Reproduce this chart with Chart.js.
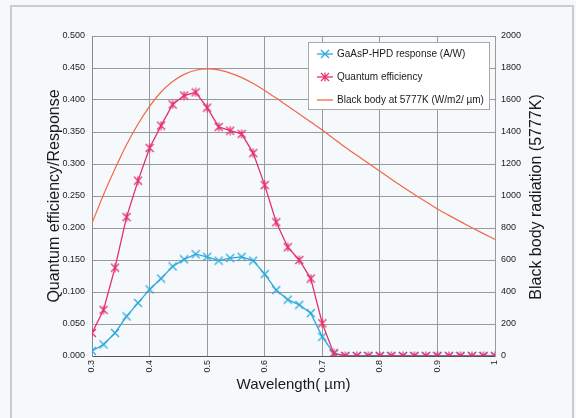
<!DOCTYPE html>
<html>
<head>
<meta charset="utf-8">
<script src="https://cdn.jsdelivr.net/npm/chart.js@4.4.1/dist/chart.umd.min.js"></script>
<style>
  html, body { margin: 0; padding: 0; background: #f5f9fb; }
  #frame { position: absolute; left: 10px; top: 5px; width: 564px; height: 430px;
           border: 2px solid #cbcccd; box-sizing: border-box; }
  #wrap { position: absolute; left: 0; top: 0; width: 576px; height: 418px; }
</style>
</head>
<body>
<div id="frame"></div>
<div id="wrap"><canvas id="chart" width="576" height="418"></canvas></div>
<script>
// wavelength in um, every 0.02
const wavelengths = [0.30,0.32,0.34,0.36,0.38,0.40,0.42,0.44,0.46,0.48,0.50,0.52,0.54,0.56,0.58,0.60,0.62,0.64,0.66,0.68,
  0.70,0.72,0.74,0.76,0.78,0.80,0.82,0.84,0.86,0.88,0.90,0.92,0.94,0.96,0.98,1.00];
const responseAW = [0.008,0.018,0.036,0.062,0.083,0.104,0.121,0.140,0.151,0.159,0.155,0.149,0.153,0.155,0.149,0.128,0.103,0.088,0.080,0.067,
  0.030,0.004,0,0,0,0,0,0,0,0,0,0,0,0,0,0];
const quantumEff = [0.036,0.072,0.138,0.217,0.274,0.325,0.360,0.393,0.407,0.412,0.388,0.358,0.352,0.347,0.317,0.267,0.209,0.170,0.150,0.121,
  0.051,0.004,0,0,0,0,0,0,0,0,0,0,0,0,0,0];
const blackBody = [830,1008,1170,1320,1450,1560,1650,1715,1760,1786,1794,1788,1768,1740,1703,1660,1612,1562,1512,1462,
  1412,1358,1305,1254,1204,1155,1105,1057,1010,964,919,879,840,802,765,729];

const leftTicks = { min: 0, max: 0.5, step: 0.05 };
const rightTicks = { min: 0, max: 2000, step: 200 };

const CYAN = "#2aa8de";
const MAGENTA = "#e3306f";
const ORANGE = "#f26848";
const NARROW = "'Liberation Sans Narrow', 'Liberation Sans', Arial, sans-serif";
const SANS = "'Liberation Sans', Arial, sans-serif";

function makeMarker(color, size, asterisk) {
  const c = document.createElement("canvas");
  c.width = c.height = size;
  const g = c.getContext("2d");
  g.strokeStyle = color;
  g.lineWidth = 1.2;
  g.beginPath();
  g.moveTo(1,1); g.lineTo(size-1,size-1);
  g.moveTo(size-1,1); g.lineTo(1,size-1);
  if (asterisk) { g.moveTo(size/2,0.5); g.lineTo(size/2,size-0.5); }
  g.stroke();
  return c;
}
const cyanMark = makeMarker(CYAN, 10, false);
const magMark = makeMarker(MAGENTA, 10, true);

const pts = arr => wavelengths.map((w,i) => ({ x: w, y: arr[i] }));

// legend box + right axis title
const extras = {
  id: "extras",
  afterDatasetsDraw(chart) {
    const c = chart.ctx;
    c.save();
    c.fillStyle = "#ffffff";
    c.strokeStyle = "#a8a8a8";
    c.lineWidth = 1;
    c.fillRect(308, 42, 182, 68);
    c.strokeRect(308.5, 42.5, 181, 67);
    const items = [
      { label: "GaAsP-HPD response (A/W)", color: CYAN, mark: cyanMark, y: 54 },
      { label: "Quantum efficiency", color: MAGENTA, mark: magMark, y: 77 },
      { label: "Black body at 5777K (W/m2/ \u00b5m)", color: ORANGE, mark: null, y: 100 }
    ];
    c.font = "10px " + SANS;
    c.textBaseline = "middle";
    items.forEach(it => {
      c.strokeStyle = it.color;
      c.lineWidth = 1.3;
      c.beginPath(); c.moveTo(317, it.y); c.lineTo(333, it.y); c.stroke();
      if (it.mark) c.drawImage(it.mark, 325 - it.mark.width/2, it.y - it.mark.height/2);
      c.fillStyle = "#1a1a1a";
      c.fillText(it.label, 337, it.y + 0.5);
    });
    c.translate(537, 197);
    c.rotate(-Math.PI/2);
    c.textAlign = "center";
    c.font = "16px " + SANS;
    c.fillText("Black body radiation (5777K)", 0, 0);
    c.restore();
  }
};

new Chart(document.getElementById("chart"), {
  type: "line",
  data: {
    datasets: [
      {
        label: "Quantum efficiency",
        data: pts(quantumEff),
        borderColor: MAGENTA, borderWidth: 1.3,
        pointStyle: magMark, yAxisID: "y", order: 1
      },
      {
        label: "GaAsP-HPD response (A/W)",
        data: pts(responseAW),
        borderColor: CYAN, borderWidth: 1.3,
        pointStyle: cyanMark, yAxisID: "y", order: 2
      },
      {
        label: "Black body at 5777K (W/m2/ \u00b5m)",
        data: pts(blackBody),
        borderColor: ORANGE, borderWidth: 1.2,
        pointRadius: 0, cubicInterpolationMode: "monotone",
        yAxisID: "y1", order: 3
      }
    ]
  },
  options: {
    responsive: false,
    animation: false,
    layout: { padding: { left: 41, right: 0, top: 36, bottom: 0 } },
    plugins: { legend: { display: false }, tooltip: { enabled: false } },
    scales: {
      x: {
        type: "linear", min: 0.3, max: 1.0,
        afterFit: s => { s.height = 62; },
        ticks: {
          stepSize: 0.1, minRotation: 90, maxRotation: 90, padding: 4,
          color: "#1a1a1a", font: { family: NARROW, size: 9 },
          callback: v => String(Math.round(v * 10) / 10)
        },
        grid: { color: "#9a9a9a", lineWidth: 1, drawTicks: false },
        border: { color: "#555555", width: 1 },
        title: {
          display: true, text: "Wavelength( \u00b5m)", color: "#1a1a1a",
          font: { family: SANS, size: 15 }, padding: { top: 0, bottom: 24 }
        }
      },
      y: {
        position: "left", min: leftTicks.min, max: leftTicks.max,
        afterFit: s => { s.width = 51; },
        ticks: {
          stepSize: leftTicks.step, padding: 7, color: "#1a1a1a",
          font: { family: NARROW, size: 9 },
          callback: v => v.toFixed(3)
        },
        grid: { color: "#9a9a9a", lineWidth: 1, drawTicks: false },
        border: { color: "#8a8a8a" },
        title: {
          display: true, text: "Quantum efficiency/Response", color: "#1a1a1a",
          font: { family: SANS, size: 16 }, padding: { top: 4, bottom: 0 }
        }
      },
      y1: {
        position: "right", min: rightTicks.min, max: rightTicks.max,
        afterFit: s => { s.width = 81; },
        ticks: {
          stepSize: rightTicks.step, padding: 6, color: "#1a1a1a",
          font: { family: NARROW, size: 9 },
          callback: v => String(v)
        },
        grid: { drawOnChartArea: false, drawTicks: false },
        border: { color: "#9a9a9a", dash: [1, 1] }
      }
    }
  },
  plugins: [extras]
});
</script>
</body>
</html>
